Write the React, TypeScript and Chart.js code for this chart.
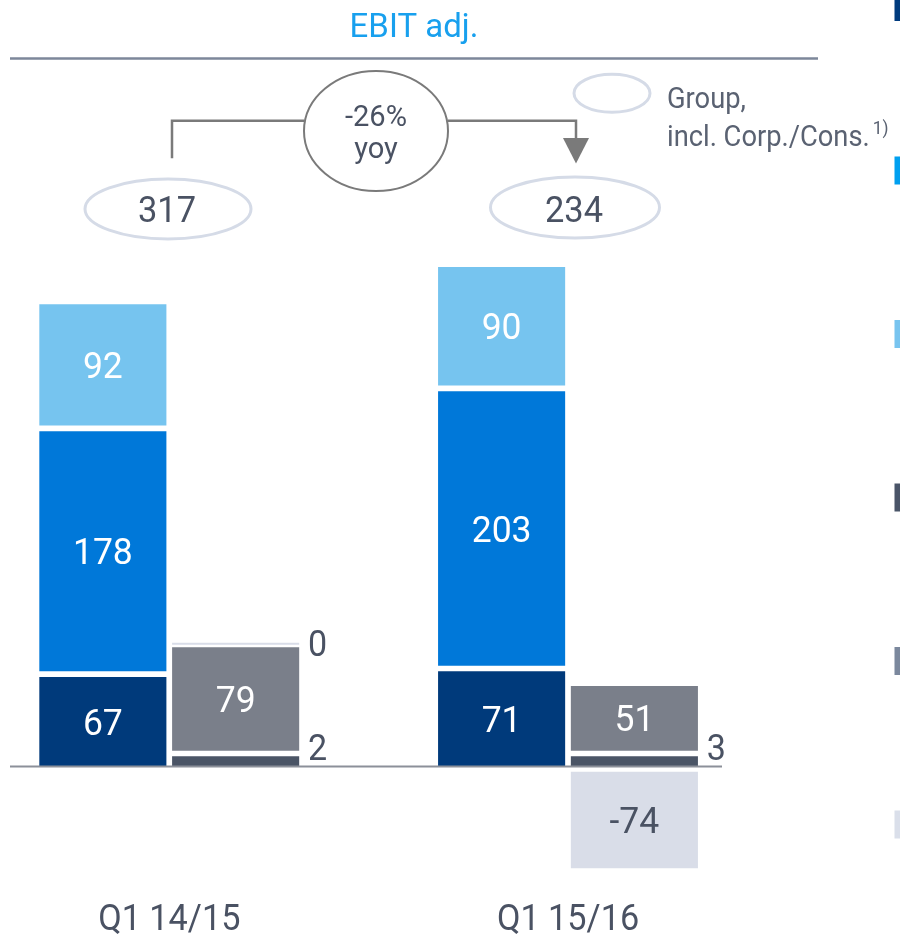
import React, { useEffect, useRef } from 'react';
import { Chart, registerables } from 'chart.js';

Chart.register(...registerables);

// ---------- data ----------
const categories = ['Q1 14/15', 'Q1 15/16'];
const seriesNames = ['Segment 1', 'Segment 2', 'Segment 3', 'Segment 4', 'Segment 5', 'Segment 6'];
const navyValues = [67, 71];
const blueValues = [178, 203];
const lightBlueValues = [92, 90];
const darkGreyValues = [2, 3];
const greyValues = [79, 51];
const lightGreyValues = [0, -74];
const groupTotals = [317, 234];
const yoyChange = '-26%';
const yoyLabel = 'yoy';
const titleText = 'EBIT adj.';
const legendLines = ['Group,', 'incl. Corp./Cons.'];
const legendFootnote = '1)';
const seriesColors = ['#003a7b', '#0078d9', '#76c4ef', '#4b5566', '#7a7f8a', '#d9dde8'];
const legendMarkerColors = ['#003b7e', '#00a0f0', '#78c4ef', '#4a5568', '#7b889d', '#dadfea'];

// ---------- styles ----------
const BW = 2.85;
const TEXT_DARK = '#4a5263';
const FONT = 'Roboto, "Noto Sans", sans-serif';

function trbl(bw: any) {
  if (typeof bw === 'number') return { top: bw, bottom: bw, left: bw, right: bw };
  return { top: bw?.top || 0, bottom: bw?.bottom || 0, left: bw?.left || 0, right: bw?.right || 0 };
}

function drawText(
  ctx: CanvasRenderingContext2D,
  text: string,
  x: number,
  baseline: number,
  size: number,
  color: string,
  align: CanvasTextAlign = 'center',
  sx = 1,
) {
  ctx.save();
  ctx.font = `${size}px ${FONT}`;
  ctx.fillStyle = color;
  ctx.textAlign = align;
  ctx.textBaseline = 'alphabetic';
  ctx.translate(x, baseline);
  ctx.scale(sx, 1);
  ctx.fillText(text, 0, 0);
  ctx.restore();
}

function capText(ctx: CanvasRenderingContext2D, text: string, x: number, cy: number, size: number, color: string, align: CanvasTextAlign = 'center', sx = 1) {
  drawText(ctx, text, x, cy + size * 0.355, size, color, align, sx);
}

const overlayPlugin = {
  id: 'overlay',
  afterDraw(chart: any) {
    const ctx: CanvasRenderingContext2D = chart.ctx;
    const xs = chart.scales.x;
    const ys = chart.scales.y;
    ctx.save();

    // bar labels
    chart.data.datasets.forEach((ds: any, di: number) => {
      const meta = chart.getDatasetMeta(di);
      meta.data.forEach((el: any, i: number) => {
        const v = ds.data[i] as number;
        const p = el.getProps(['x', 'y', 'base', 'width'], true);
        const b = trbl(el.options.borderWidth);
        const top = Math.min(p.y, p.base) + b.top;
        const bottom = Math.max(p.y, p.base) - b.bottom;
        if (Math.abs(v) >= 10) {
          capText(ctx, String(v), p.x, (top + bottom) / 2, 37, v < 0 ? TEXT_DARK : '#ffffff', 'center', 0.96);
        } else {
          const cy = v === 0 ? (p.y + p.base) / 2 - 2 : p.base - 20;
          capText(ctx, String(v), p.x + p.width / 2 + 6, cy, 37, TEXT_DARK, 'left', 0.92);
        }
      });
    });

    // zero baseline
    const y0 = ys.getPixelForValue(0);
    ctx.strokeStyle = '#8c9099';
    ctx.lineWidth = 2;
    ctx.beginPath();
    ctx.moveTo(10, y0);
    ctx.lineTo(722, y0);
    ctx.stroke();

    // category labels
    categories.forEach((c, i) => {
      capText(ctx, c, xs.getPixelForValue(i), 917, 36, TEXT_DARK, 'center', 0.95);
    });

    // title + rule
    drawText(ctx, titleText, 414, 36.7, 34, '#18a0ee', 'center', 0.97);
    ctx.strokeStyle = '#7d879a';
    ctx.lineWidth = 2.5;
    ctx.beginPath();
    ctx.moveTo(10, 58.5);
    ctx.lineTo(818, 58.5);
    ctx.stroke();

    // total ellipses
    const totalPos = [
      { x: 168, y: 209, rx: 83, ry: 30 },
      { x: 575, y: 207.5, rx: 84.5, ry: 30.5 },
    ];
    groupTotals.forEach((t, i) => {
      const e = totalPos[i];
      ctx.strokeStyle = '#d5dbe7';
      ctx.lineWidth = 3;
      ctx.beginPath();
      ctx.ellipse(e.x, e.y, e.rx, e.ry, 0, 0, Math.PI * 2);
      ctx.stroke();
      capText(ctx, String(t), e.x - 1, 208.5, 37, TEXT_DARK, 'center', 0.93);
    });

    // connector + arrow
    const grey = '#7a7a7a';
    ctx.strokeStyle = grey;
    ctx.lineWidth = 2.5;
    ctx.beginPath();
    ctx.moveTo(172, 158.3);
    ctx.lineTo(172, 120.7);
    ctx.lineTo(304, 120.7);
    ctx.moveTo(448, 120.7);
    ctx.lineTo(576, 120.7);
    ctx.lineTo(576, 140);
    ctx.stroke();
    ctx.fillStyle = grey;
    ctx.beginPath();
    ctx.moveTo(563, 138);
    ctx.lineTo(589, 138);
    ctx.lineTo(576, 163.5);
    ctx.closePath();
    ctx.fill();

    // yoy ellipse
    ctx.lineWidth = 2;
    ctx.beginPath();
    ctx.ellipse(376, 131, 72, 60, 0, 0, Math.PI * 2);
    ctx.stroke();
    drawText(ctx, yoyChange, 376, 126, 30, TEXT_DARK, 'center', 0.97);
    drawText(ctx, yoyLabel, 376, 157.5, 30, TEXT_DARK, 'center', 0.97);

    // legend (group)
    ctx.strokeStyle = '#d5dbe7';
    ctx.lineWidth = 3;
    ctx.beginPath();
    ctx.ellipse(612, 93.3, 38, 19, 0, 0, Math.PI * 2);
    ctx.stroke();
    const legSx = 0.91;
    drawText(ctx, legendLines[0], 667, 108.3, 30, '#5a6272', 'left', legSx);
    drawText(ctx, legendLines[1], 667, 145.7, 30, '#5a6272', 'left', legSx);
    ctx.font = `30px ${FONT}`;
    const w = ctx.measureText(legendLines[1]).width * legSx;
    drawText(ctx, legendFootnote, 667 + w + 3, 134, 19, '#5a6272', 'left', legSx);

    // series legend markers (cut at right edge)
    legendMarkerColors.forEach((c, i) => {
      ctx.fillStyle = c;
      ctx.fillRect(894.5, -7 + i * 163.5, 12, 28);
    });

    ctx.restore();
  },
};

export default function App() {
  const ref = useRef<HTMLCanvasElement | null>(null);

  useEffect(() => {
    if (!ref.current) return;
    const common = { borderColor: '#ffffff', borderSkipped: false as const, stack: 'a', clip: false as any };
    const full = { top: BW, bottom: BW, left: BW, right: BW };
    const noBottom = { top: BW, bottom: 0, left: BW, right: BW };
    const chart = new Chart(ref.current, {
      type: 'bar',
      data: {
        labels: categories,
        datasets: [
          { ...common, label: seriesNames[0], data: navyValues, backgroundColor: seriesColors[0], borderWidth: noBottom },
          { ...common, label: seriesNames[1], data: blueValues, backgroundColor: seriesColors[1], borderWidth: full },
          { ...common, label: seriesNames[2], data: lightBlueValues, backgroundColor: seriesColors[2], borderWidth: full },
          { ...common, stack: 'b', label: seriesNames[3], data: darkGreyValues, backgroundColor: seriesColors[3], borderWidth: noBottom, minBarLength: 13 },
          { ...common, stack: 'b', label: seriesNames[4], data: greyValues, backgroundColor: seriesColors[4], borderWidth: full },
          {
            ...common,
            stack: 'b',
            label: seriesNames[5],
            data: lightGreyValues,
            backgroundColor: seriesColors[5],
            minBarLength: 6,
            borderWidth: (c: any) =>
              c.raw < 0 ? { top: 5.2, bottom: 0, left: BW, right: BW } : { top: 1.2, bottom: 1, left: BW, right: BW },
          },
        ] as any,
      },
      options: {
        animation: false,
        responsive: false,
        maintainAspectRatio: false,
        events: [],
        layout: { padding: { left: 169.25, right: 332, top: 214.5, bottom: 30.5 } },
        datasets: { bar: { categoryPercentage: 0.666, barPercentage: 1 } },
        scales: {
          x: { display: false, offset: false, stacked: true },
          y: { display: false, stacked: true, min: -100, max: 400 },
        },
        plugins: { legend: { display: false }, tooltip: { enabled: false } },
      } as any,
      plugins: [overlayPlugin],
    });
    let alive = true;
    if ((document as any).fonts?.load) {
      (document as any).fonts
        .load(`37px Roboto`)
        .then(() => {
          if (alive) chart.draw();
        })
        .catch(() => {});
    }
    return () => {
      alive = false;
      chart.destroy();
    };
  }, []);

  return (
    <div style={{ position: 'absolute', left: 0, top: 0, width: 900, height: 935, overflow: 'hidden', background: '#ffffff' }}>
      <canvas ref={ref} width={900} height={935} style={{ display: 'block', width: 900, height: 935 }} />
    </div>
  );
}
